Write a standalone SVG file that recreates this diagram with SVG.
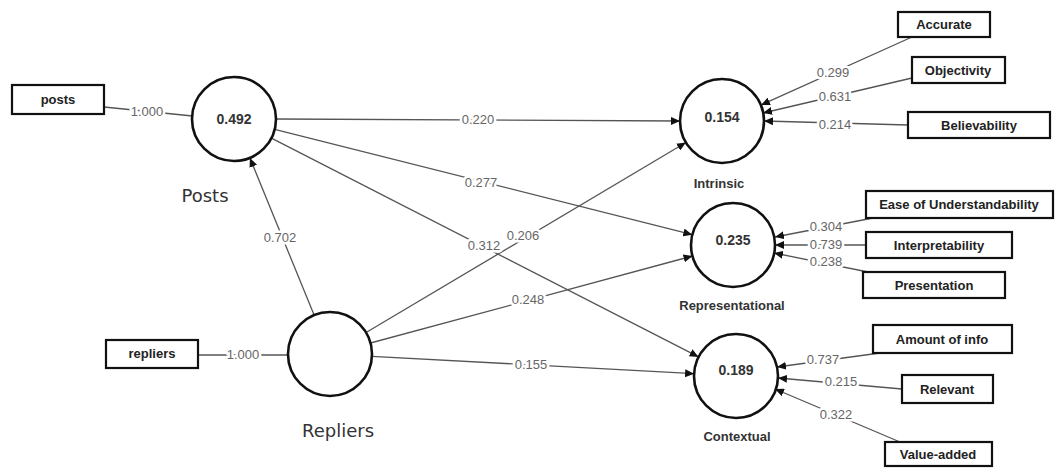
<svg xmlns="http://www.w3.org/2000/svg" width="1062" height="468" viewBox="0 0 1062 468">
<style>
.lv{fill:#fff;stroke:#111;stroke-width:2.6}
.bx{fill:#fff;stroke:#111;stroke-width:2.2}
.bt{font-family:"Liberation Sans",Arial,sans-serif;font-size:13px;font-weight:bold;fill:#222;text-anchor:middle}
.val{font-family:"Liberation Sans",Arial,sans-serif;font-size:14px;font-weight:bold;fill:#333;text-anchor:middle}
.ll{font-family:"Liberation Sans",Arial,sans-serif;font-size:13px;font-weight:bold;fill:#333;text-anchor:middle}
.big{font-family:"DejaVu Sans",Verdana,sans-serif;font-size:18px;fill:#333;text-anchor:middle}
.c{stroke:#555;stroke-width:1.3;fill:none}
.a{marker-end:url(#ah)}
.n{font-family:"Liberation Sans",Arial,sans-serif;font-size:13px;fill:#666;text-anchor:middle;stroke:#fff;stroke-width:5;paint-order:stroke;stroke-linejoin:round}
</style>
<defs>
<marker id="ah" markerUnits="userSpaceOnUse" markerWidth="10" markerHeight="8" refX="9" refY="4" orient="auto">
<path d="M0,0 L9,4 L0,8 Z" fill="#111"/>
</marker>
</defs>
<rect width="1062" height="468" fill="#fff"/>
<g id="connectors">
<line class="c" x1="104" y1="107" x2="192.5" y2="116"/>
<line class="c" x1="198" y1="355" x2="288" y2="355"/>
<line class="c a" x1="276" y1="119" x2="680" y2="121"/>
<line class="c a" x1="274.7" y1="129.3" x2="692.3" y2="234.7"/>
<line class="c a" x1="271.4" y1="138.1" x2="698.6" y2="356.9"/>
<line class="c a" x1="314.1" y1="315.1" x2="249.9" y2="157.9"/>
<line class="c a" x1="366.1" y1="332.5" x2="685.9" y2="142.5"/>
<line class="c a" x1="370.5" y1="343" x2="692.5" y2="256"/>
<line class="c a" x1="371.9" y1="356.3" x2="694.1" y2="373.7"/>
<line class="c a" x1="912" y1="37" x2="761" y2="105"/>
<line class="c a" x1="912" y1="78" x2="763" y2="113"/>
<line class="c a" x1="908" y1="125" x2="764" y2="121"/>
<line class="c a" x1="873" y1="218" x2="775" y2="237"/>
<line class="c a" x1="866" y1="245" x2="775" y2="245"/>
<line class="c a" x1="868" y1="272" x2="774" y2="253"/>
<line class="c a" x1="880" y1="353" x2="777" y2="367"/>
<line class="c a" x1="902" y1="389" x2="778" y2="378"/>
<line class="c a" x1="900" y1="442" x2="775" y2="389"/>
<text class="n" x="147" y="116">1.000</text>
<text class="n" x="243" y="359">1.000</text>
<text class="n" x="280" y="242">0.702</text>
<text class="n" x="478" y="124">0.220</text>
<text class="n" x="481" y="187">0.277</text>
<text class="n" x="484" y="250">0.312</text>
<text class="n" x="523" y="240">0.206</text>
<text class="n" x="528" y="304">0.248</text>
<text class="n" x="531" y="369">0.155</text>
<text class="n" x="833" y="77">0.299</text>
<text class="n" x="835" y="101">0.631</text>
<text class="n" x="835" y="129">0.214</text>
<text class="n" x="826" y="231">0.304</text>
<text class="n" x="826" y="249">0.739</text>
<text class="n" x="826" y="266">0.238</text>
<text class="n" x="823" y="364">0.737</text>
<text class="n" x="841" y="386">0.215</text>
<text class="n" x="836" y="419">0.322</text>
</g>
<g id="posts-ind"><rect class="bx" x="12" y="85" width="92" height="29"/><text class="bt" x="58" y="104">posts</text></g>
<g id="repliers-ind"><rect class="bx" x="106" y="340" width="92" height="28"/><text class="bt" x="152" y="358">repliers</text></g>
<g id="Posts"><circle class="lv" cx="234" cy="119" r="42"/><text class="val" x="234" y="124">0.492</text><text class="big" x="205" y="202">Posts</text></g>
<g id="Repliers"><circle class="lv" cx="330" cy="354" r="42"/><text class="big" x="338" y="437">Repliers</text></g>
<g id="Intrinsic"><circle class="lv" cx="722" cy="121" r="42"/><text class="val" x="722" y="122">0.154</text><text class="ll" x="719" y="188">Intrinsic</text></g>
<g id="Representational"><circle class="lv" cx="733" cy="245" r="42"/><text class="val" x="733" y="245">0.235</text><text class="ll" x="732" y="310">Representational</text></g>
<g id="Contextual"><circle class="lv" cx="736" cy="376" r="42"/><text class="val" x="736" y="375">0.189</text><text class="ll" x="737" y="441">Contextual</text></g>
<g id="Accurate"><rect class="bx" x="898" y="12" width="92" height="25"/><text class="bt" x="944" y="29">Accurate</text></g>
<g id="Objectivity"><rect class="bx" x="912" y="57" width="93" height="26"/><text class="bt" x="958" y="75">Objectivity</text></g>
<g id="Believability"><rect class="bx" x="908" y="112" width="142" height="26"/><text class="bt" x="979" y="130">Believability</text></g>
<g id="Ease"><rect class="bx" x="866" y="191" width="187" height="27"/><text class="bt" x="959" y="209">Ease of Understandability</text></g>
<g id="Interpretability"><rect class="bx" x="866" y="232" width="146" height="26"/><text class="bt" x="939" y="250">Interpretability</text></g>
<g id="Presentation"><rect class="bx" x="863" y="272" width="142" height="26"/><text class="bt" x="934" y="290">Presentation</text></g>
<g id="Amount"><rect class="bx" x="873" y="325" width="139" height="28"/><text class="bt" x="942" y="344">Amount of info</text></g>
<g id="Relevant"><rect class="bx" x="902" y="375" width="91" height="28"/><text class="bt" x="947" y="394">Relevant</text></g>
<g id="Value-added"><rect class="bx" x="885" y="442" width="107" height="24"/><text class="bt" x="938" y="459">Value-added</text></g>
</svg>
